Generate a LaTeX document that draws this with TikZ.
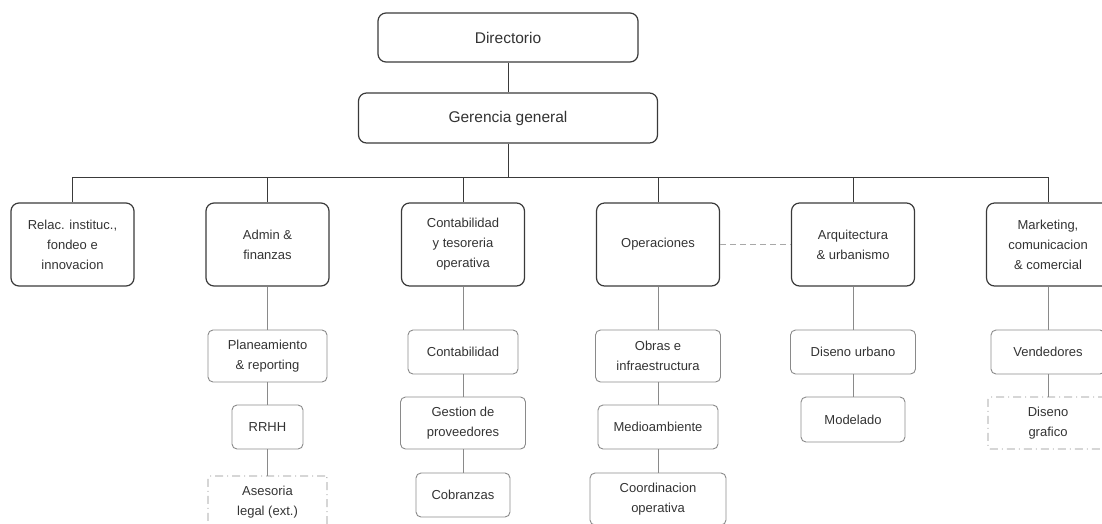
\documentclass[tikz,border=0pt]{standalone}
\usepackage{fontspec}
\setmainfont{Liberation Sans}

\definecolor{boxline}{HTML}{3A3A3A}
\definecolor{subline}{HTML}{8A8A8A}
\definecolor{txtgray}{HTML}{333333}
\definecolor{peerline}{HTML}{A8A8A8}

\begin{document}
\begin{tikzpicture}[x=1pt, y=-1pt,
  topbox/.style={draw=boxline, line width=1.2pt, rounded corners=8pt, text=txtgray,
    inner sep=2pt, font=\fontsize{15.5}{20}\selectfont},
  unitbox/.style={draw=boxline, line width=1.2pt, rounded corners=8pt, text=txtgray,
    inner sep=2pt, align=center, minimum width=123pt, minimum height=83pt,
    font=\fontsize{13}{20}\selectfont},
  subbox/.style={draw=subline, line width=0.9pt, rounded corners=5pt, text=txtgray,
    inner sep=2pt, align=center, font=\fontsize{13}{20}\selectfont},
  extbox/.style={subbox, draw=subline, rounded corners=2pt,
    dash pattern=on 8pt off 4pt on 1pt off 4pt},
  link/.style={draw=boxline, line width=0.9pt},
  sublink/.style={draw=subline, line width=0.9pt},
  peer/.style={draw=peerline, line width=0.9pt, dash pattern=on 6pt off 4pt}]
  \clip (0,0) rectangle (1102,523);

  % top
  \node[topbox, minimum width=260pt, minimum height=49pt] (dir) at (508,37.5) {Directorio};
  \node[topbox, minimum width=299pt, minimum height=50pt] (ger) at (508,118) {Gerencia general};
  \draw[link] (dir.south) -- (ger.north);

  % areas
  \node[unitbox] (relac) at (72.5,244.5) {Relac. instituc.,\\fondeo e\\innovacion};
  \node[unitbox] (admin) at (267.5,244.5) {Admin \&\\finanzas};
  \node[unitbox] (conta) at (463,244.5) {Contabilidad\\y tesoreria\\operativa};
  \node[unitbox] (oper) at (658,244.5) {Operaciones};
  \node[unitbox] (arq) at (853,244.5) {Arquitectura\\\& urbanismo};
  \node[unitbox] (mkt) at (1048,244.5) {Marketing,\\comunicacion\\\& comercial};

  \coordinate (bus) at (508,177);
  \draw[link] (ger.south) -- (bus);
  \foreach \n in {relac,admin,conta,oper,arq,mkt}
    \draw[link] (bus) -| (\n.north);
  \draw[peer] (oper.east) -- (arq.west);

  % admin
  \node[subbox, minimum width=119pt, minimum height=52pt] (plan) at (267.5,356) {Planeamiento\\\& reporting};
  \node[subbox, minimum width=71pt, minimum height=44pt] (rrhh) at (267.5,427) {RRHH};
  \node[extbox, minimum width=119pt, minimum height=52pt] (legal) at (267.5,502) {Asesoria\\legal (ext.)};
  \draw[sublink] (admin.south) -- (plan.north);
  \draw[sublink] (plan.south) -- (rrhh.north);
  \draw[sublink] (rrhh.south) -- (legal.north);

  % contabilidad
  \node[subbox, minimum width=110pt, minimum height=44pt] (ctb) at (463,352) {Contabilidad};
  \node[subbox, minimum width=125pt, minimum height=52pt] (prov) at (463,423) {Gestion de\\proveedores};
  \node[subbox, minimum width=94pt, minimum height=44pt] (cobr) at (463,495) {Cobranzas};
  \draw[sublink] (conta.south) -- (ctb.north);
  \draw[sublink] (ctb.south) -- (prov.north);
  \draw[sublink] (prov.south) -- (cobr.north);

  % operaciones
  \node[subbox, minimum width=125pt, minimum height=52pt] (obras) at (658,356) {Obras e\\infraestructura};
  \node[subbox, minimum width=120pt, minimum height=44pt] (medio) at (658,427) {Medioambiente};
  \node[subbox, minimum width=136pt, minimum height=52pt] (coord) at (658,499) {Coordinacion\\operativa};
  \draw[sublink] (oper.south) -- (obras.north);
  \draw[sublink] (obras.south) -- (medio.north);
  \draw[sublink] (medio.south) -- (coord.north);

  % arquitectura
  \node[subbox, minimum width=125pt, minimum height=44pt] (urb) at (853,352) {Diseno urbano};
  \node[subbox, minimum width=104pt, minimum height=45pt] (model) at (853,419.5) {Modelado};
  \draw[sublink] (arq.south) -- (urb.north);
  \draw[sublink] (urb.south) -- (model.north);

  % marketing
  \node[subbox, minimum width=114pt, minimum height=44pt] (vend) at (1048,352) {Vendedores};
  \node[extbox, minimum width=120pt, minimum height=52pt] (graf) at (1048,423) {Diseno\\grafico};
  \draw[sublink] (mkt.south) -- (vend.north);
  \draw[sublink] (vend.south) -- (graf.north);
\end{tikzpicture}
\end{document}
